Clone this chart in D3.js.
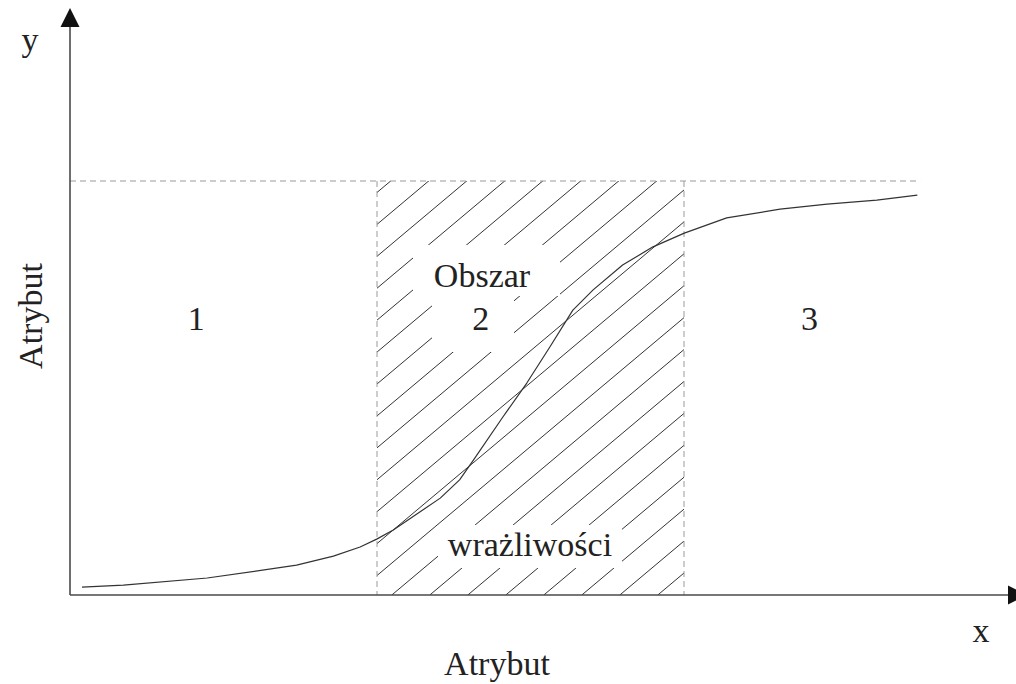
<!DOCTYPE html>
<html>
<head>
<meta charset="utf-8">
<script src="https://cdn.jsdelivr.net/npm/d3@7"></script>
</head>
<body style="margin:0">
<svg id="chart" width="1016" height="684"></svg>
<script>
// ---- data ----
const curveX = [0.13, 0.58, 1.49, 2.46, 2.86, 3.15, 3.33, 3.51, 4.02, 4.23, 4.38, 4.70, 4.96, 5.21, 5.46, 5.68, 6.00, 6.33, 6.67, 7.13, 7.71, 8.22, 8.76, 9.20];
const curveY = [0.019, 0.024, 0.041, 0.072, 0.094, 0.116, 0.135, 0.157, 0.234, 0.278, 0.326, 0.430, 0.512, 0.599, 0.688, 0.737, 0.797, 0.841, 0.874, 0.911, 0.932, 0.944, 0.954, 0.966];
const regionBounds = [10/3, 20/3];      // x boundaries of region 2
const upperLevel = 1;                    // dashed upper level
const upperLevelEnd = 9.23;              // where dashed line ends
const regionLabels = ["1", "2", "3"];
const regionLabelX = [1.37, 4.46, 8.03];
const hatchSlope = 0.84;                 // rise/run of hatch lines (px)
const hatchStepPx = 38;                  // horizontal spacing of hatch lines

// ---- scales ----
const svg = d3.select("#chart");
const x = d3.scaleLinear().domain([0, 10]).range([70, 991]);
const y = d3.scaleLinear().domain([0, 1]).range([595, 181]);

const axisColor = "#4a4a4a";
const dashColor = "#9a9a9a";

// ---- hatching in region 2 ----
const x0 = x(regionBounds[0]), x1 = x(regionBounds[1]);
const yTop = y(upperLevel), yBot = y(0);
svg.append("clipPath").attr("id", "clipR2")
  .append("rect").attr("x", x0).attr("y", yTop).attr("width", x1 - x0).attr("height", yBot - yTop);

const hatchG = svg.append("g").attr("clip-path", "url(#clipR2)");
const phase = 657.8;
const offsets = d3.range(-25, 12).map(k => phase + k * hatchStepPx);
hatchG.selectAll("line.h").data(offsets).join("line")
  .attr("class", "h")
  .attr("x1", b => b).attr("y1", yBot)
  .attr("x2", b => b + (yBot - yTop + 20) / hatchSlope).attr("y2", yTop - 20)
  .attr("stroke", "#333").attr("stroke-width", 1);

// white masks behind labels inside hatched area
const masks = [
  {x: 413, y: 245, w: 147, h: 51},
  {x: 432, y: 296, w: 82, h: 56},
  {x: 438, y: 525, w: 184, h: 43}
];
svg.selectAll("rect.mask").data(masks).join("rect")
  .attr("class", "mask")
  .attr("x", d => d.x).attr("y", d => d.y).attr("width", d => d.w).attr("height", d => d.h)
  .attr("fill", "#fff");

// ---- dashed guides ----
svg.append("line")
  .attr("x1", x(0)).attr("x2", x(upperLevelEnd))
  .attr("y1", y(upperLevel)).attr("y2", y(upperLevel))
  .attr("stroke", dashColor).attr("stroke-width", 1).attr("stroke-dasharray", "6,4");
svg.selectAll("line.vb").data(regionBounds).join("line")
  .attr("class", "vb")
  .attr("x1", d => x(d)).attr("x2", d => x(d))
  .attr("y1", y(upperLevel)).attr("y2", y(0))
  .attr("stroke", dashColor).attr("stroke-width", 1).attr("stroke-dasharray", "6,4");

// ---- curve ----
const pts = curveX.map((v, i) => [v, curveY[i]]);
svg.append("path")
  .datum(pts)
  .attr("d", d3.line().x(d => x(d[0])).y(d => y(d[1])))
  .attr("fill", "none").attr("stroke", "#333").attr("stroke-width", 1.2)
  .attr("stroke-linejoin", "round");

// ---- axes with arrows ----
svg.append("line")
  .attr("x1", x(0)).attr("x2", x(0)).attr("y1", y(0)).attr("y2", 22)
  .attr("stroke", axisColor).attr("stroke-width", 1.6);
svg.append("line")
  .attr("x1", x(0)).attr("x2", 1012).attr("y1", y(0)).attr("y2", y(0))
  .attr("stroke", axisColor).attr("stroke-width", 1.6);
svg.append("path")
  .attr("d", `M${x(0)},8 L${x(0) + 9.5},27 L${x(0) - 9.5},27 Z`)
  .attr("fill", "#111");
svg.append("path")
  .attr("d", `M1008,${y(0) - 9.5} L1027,${y(0)} L1008,${y(0) + 9.5} Z`)
  .attr("fill", "#111");

// ---- texts ----
const labels = [
  {t: "y", x: 30, y: 51, r: 0},
  {t: "x", x: 981, y: 642, r: 0},
  {t: "Atrybut", x: 497, y: 675, r: 0},
  {t: "Atrybut", x: 42, y: 316, r: -90},
  {t: "Obszar", x: 482, y: 287, r: 0},
  {t: "wrażliwości", x: 530, y: 556, r: 0}
].concat(regionLabels.map((t, i) => ({t, x: x(regionLabelX[i]), y: 330, r: 0})));

svg.selectAll("text.lbl").data(labels).join("text")
  .attr("class", "lbl")
  .attr("transform", d => `translate(${d.x},${d.y}) rotate(${d.r})`)
  .attr("text-anchor", "middle")
  .attr("font-size", 34)
  .attr("fill", "#222")
  .style("font-family", `"Liberation Serif", "Times New Roman", monospace`)
  .text(d => d.t);
</script>
</body>
</html>
